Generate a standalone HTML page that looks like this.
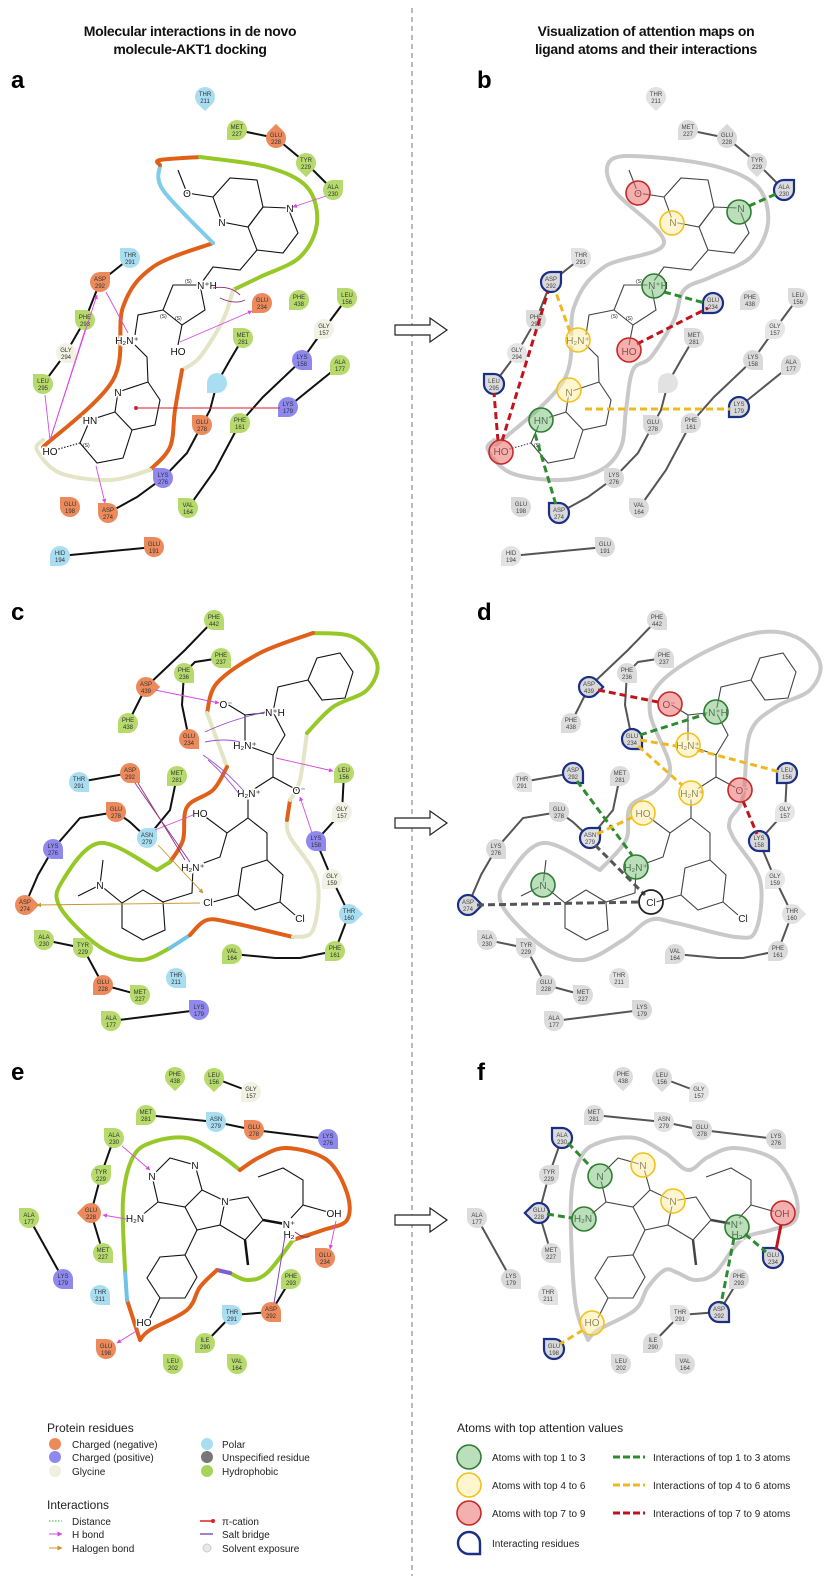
<!DOCTYPE html>
<html><head><meta charset="utf-8"><style>
html,body{margin:0;padding:0;background:#fff;}
svg{display:block;font-family:"Liberation Sans",sans-serif;}
</style></head><body>
<svg id="main" width="838" height="1576" viewBox="0 0 838 1576" xmlns="http://www.w3.org/2000/svg">
<defs>
<path id="t" d="M0,-10H10V0A10,10 0 1 1 0,-10Z"/>
<path id="tb" d="M0,-10H10V0A10,10 0 1 1 0,-10Z" fill="none" stroke="#1b2f86" stroke-width="2.2"/>

<g id="skA">
 <g fill="none" stroke="var(--ch)" stroke-width="2">
  <polyline points="237,130 276,138 306,163 333,190"/>
  <polyline points="130,258 100,282 85,320 66,353 43,384"/>
  <polyline points="347,298 324,329 302,360 263,397 240,423 215,470 188,508"/>
  <polyline points="340,365 288,407"/>
  <polyline points="243,338 230,360 217,383 210,410 202,425 187,453 163,478 137,497 108,513"/>
  <polyline points="60,556 154,547"/>
 </g>
 <g fill="none" stroke="var(--mol)" stroke-width="1.1">
  <polygon points="213,197 230,178 257,180 263,207 248,227 222,222"/>
  <polygon points="263,207 288,208 298,233 283,253 257,250 248,227"/>
  <polyline points="213,197 187,193 178,170"/>
  <polyline points="257,250 240,270 213,267 200,285"/>
  <polygon points="200,285 173,285 163,310 182,325 205,310"/>
  <polyline points="182,325 178,345"/>
  <polyline points="163,310 138,315 135,335"/>
  <polyline points="135,345 147,357 148,382"/>
  <polygon points="148,382 160,400 155,425 132,430 115,412 118,392"/>
  <polyline points="115,412 90,420 80,443 97,463 123,458 132,430"/>
  <polyline points="80,443 55,450" stroke-dasharray="1.5 1.5"/>
 </g>
 <g font-size="10" fill="var(--mt)" text-anchor="middle" style="paint-order:stroke;stroke:#fff;stroke-width:3">
  <text x="187" y="197">O</text><text x="222" y="226">N</text><text x="290" y="212">N</text>
  <text x="207" y="289">N⁺H</text><text x="178" y="355">HO</text><text x="127" y="344">H₂N⁺</text>
  <text x="118" y="396">N</text><text x="90" y="424">HN</text><text x="50" y="455">HO</text>
 </g>
 <g font-size="5" fill="var(--mt)"><text x="185" y="283">(S)</text><text x="160" y="318">(S)</text><text x="175" y="320">(S)</text><text x="83" y="447">(S)</text></g>
 <g font-size="6" text-anchor="middle" fill="var(--rt)">
  <g transform="translate(205,97)"><use href="#t" transform="rotate(135)" style="fill:var(--pol)"/><text y="-1">THR</text><text y="6">211</text></g>
  <g transform="translate(237,130)"><use href="#t" transform="rotate(180)" style="fill:var(--hyd)"/><text y="-1">MET</text><text y="6">227</text></g>
  <g transform="translate(276,138)"><use href="#t" transform="rotate(-45)" style="fill:var(--neg)"/><text y="-1">GLU</text><text y="6">228</text></g>
  <g transform="translate(306,163)"><use href="#t" transform="rotate(135)" style="fill:var(--hyd)"/><text y="-1">TYR</text><text y="6">229</text></g>
  <g transform="translate(333,190)"><use href="#t" transform="rotate(0)" style="fill:var(--hyd)"/><text y="-1">ALA</text><text y="6">230</text></g>
  <g transform="translate(130,258)"><use href="#t" transform="rotate(-90)" style="fill:var(--pol)"/><text y="-1">THR</text><text y="6">291</text></g>
  <g transform="translate(100,282)"><use href="#t" transform="rotate(0)" style="fill:var(--neg)"/><text y="-1">ASP</text><text y="6">292</text></g>
  <g transform="translate(85,320)"><use href="#t" transform="rotate(-90)" style="fill:var(--hyd)"/><text y="-1">PHE</text><text y="6">293</text></g>
  <g transform="translate(66,353)"><use href="#t" transform="rotate(90)" style="fill:var(--gly)"/><text y="-1">GLY</text><text y="6">294</text></g>
  <g transform="translate(43,384)"><use href="#t" transform="rotate(-90)" style="fill:var(--hyd)"/><text y="-1">LEU</text><text y="6">295</text></g>
  <g transform="translate(262,303)"><use href="#t" transform="rotate(180)" style="fill:var(--neg)"/><text y="-1">GLU</text><text y="6">234</text></g>
  <g transform="translate(299,300)"><use href="#t" transform="rotate(180)" style="fill:var(--hyd)"/><text y="-1">PHE</text><text y="6">438</text></g>
  <g transform="translate(347,298)"><use href="#t" transform="rotate(-90)" style="fill:var(--hyd)"/><text y="-1">LEU</text><text y="6">156</text></g>
  <g transform="translate(324,329)"><use href="#t" transform="rotate(180)" style="fill:var(--gly)"/><text y="-1">GLY</text><text y="6">157</text></g>
  <g transform="translate(243,338)"><use href="#t" transform="rotate(-90)" style="fill:var(--hyd)"/><text y="-1">MET</text><text y="6">281</text></g>
  <g transform="translate(302,360)"><use href="#t" transform="rotate(90)" style="fill:var(--pos)"/><text y="-1">LYS</text><text y="6">158</text></g>
  <g transform="translate(340,365)"><use href="#t" transform="rotate(180)" style="fill:var(--hyd)"/><text y="-1">ALA</text><text y="6">177</text></g>
  <g transform="translate(217,383)"><use href="#t" transform="rotate(180)" style="fill:var(--pol)"/></g>
  <g transform="translate(288,407)"><use href="#t" transform="rotate(180)" style="fill:var(--pos)"/><text y="-1">LYS</text><text y="6">179</text></g>
  <g transform="translate(202,425)"><use href="#t" transform="rotate(-90)" style="fill:var(--neg)"/><text y="-1">GLU</text><text y="6">278</text></g>
  <g transform="translate(240,423)"><use href="#t" transform="rotate(180)" style="fill:var(--hyd)"/><text y="-1">PHE</text><text y="6">161</text></g>
  <g transform="translate(163,478)"><use href="#t" transform="rotate(-90)" style="fill:var(--pos)"/><text y="-1">LYS</text><text y="6">276</text></g>
  <g transform="translate(188,508)"><use href="#t" transform="rotate(-90)" style="fill:var(--hyd)"/><text y="-1">VAL</text><text y="6">164</text></g>
  <g transform="translate(70,507)"><use href="#t" transform="rotate(-90)" style="fill:var(--neg)"/><text y="-1">GLU</text><text y="6">198</text></g>
  <g transform="translate(108,513)"><use href="#t" transform="rotate(-90)" style="fill:var(--neg)"/><text y="-1">ASP</text><text y="6">274</text></g>
  <g transform="translate(60,556)"><use href="#t" transform="rotate(180)" style="fill:var(--pol)"/><text y="-1">HID</text><text y="6">194</text></g>
  <g transform="translate(154,547)"><use href="#t" transform="rotate(-90)" style="fill:var(--neg)"/><text y="-1">GLU</text><text y="6">191</text></g>
 </g>
</g>

<g id="skC">
 <g fill="none" stroke="var(--ch)" stroke-width="2">
  <polyline points="214,620 185,650 146,687 128,723"/>
  <polyline points="221,658 195,662 184,673 182,705 189,739"/>
  <polyline points="79,782 130,773"/>
  <polyline points="177,776 170,810 147,838"/>
  <polyline points="116,812 130,822 147,838"/>
  <polyline points="116,812 80,818 53,849 38,875 25,905"/>
  <polyline points="44,940 83,948 103,985 140,995"/>
  <polyline points="111,1021 199,1010"/>
  <polyline points="232,954 275,958 300,958 335,951 349,914 332,879 316,841 342,812 344,773"/>
 </g>
 <g fill="none" stroke="var(--mol)" stroke-width="1.1">
  <polygon points="245,715 273,712 285,735 273,755 245,745"/>
  <polyline points="245,715 227,704"/>
  <polyline points="273,712 278,687 308,680"/>
  <polygon points="308,680 317,658 340,653 353,672 345,698 322,700"/>
  <polyline points="273,755 273,777 297,790"/>
  <polyline points="273,777 248,793 248,818 227,833 203,815"/>
  <polyline points="227,833 220,857 193,867 192,893 163,902"/>
  <polygon points="163,902 165,930 143,940 122,928 122,903 143,890"/>
  <polyline points="122,903 100,885 103,860"/><polyline points="100,885 78,896"/>
  <polyline points="248,818 267,833 267,860"/>
  <polygon points="267,860 283,875 280,902 255,910 238,895 242,868"/>
  <polyline points="238,895 213,902"/><polyline points="280,902 295,915"/>
 </g>
 <g font-size="10" fill="var(--mt)" text-anchor="middle" style="paint-order:stroke;stroke:#fff;stroke-width:3">
  <text x="226" y="708">O⁻</text><text x="275" y="716">N⁺H</text><text x="245" y="749">H₂N⁺</text>
  <text x="299" y="794">O⁻</text><text x="249" y="797">H₂N⁺</text><text x="200" y="817">HO</text>
  <text x="193" y="871">H₂N⁺</text><text x="100" y="889">N</text><text x="208" y="906">Cl</text><text x="300" y="922">Cl</text>
 </g>
 <g font-size="6" text-anchor="middle" fill="var(--rt)">
  <g transform="translate(214,620)"><use href="#t" transform="rotate(90)" style="fill:var(--hyd)"/><text y="-1">PHE</text><text y="6">442</text></g>
  <g transform="translate(221,658)"><use href="#t" transform="rotate(90)" style="fill:var(--hyd)"/><text y="-1">PHE</text><text y="6">237</text></g>
  <g transform="translate(184,673)"><use href="#t" transform="rotate(90)" style="fill:var(--hyd)"/><text y="-1">PHE</text><text y="6">236</text></g>
  <g transform="translate(146,687)"><use href="#t" transform="rotate(45)" style="fill:var(--neg)"/><text y="-1">ASP</text><text y="6">439</text></g>
  <g transform="translate(128,723)"><use href="#t" transform="rotate(180)" style="fill:var(--hyd)"/><text y="-1">PHE</text><text y="6">438</text></g>
  <g transform="translate(189,739)"><use href="#t" transform="rotate(90)" style="fill:var(--neg)"/><text y="-1">GLU</text><text y="6">234</text></g>
  <g transform="translate(79,782)"><use href="#t" transform="rotate(90)" style="fill:var(--pol)"/><text y="-1">THR</text><text y="6">291</text></g>
  <g transform="translate(130,773)"><use href="#t" transform="rotate(90)" style="fill:var(--neg)"/><text y="-1">ASP</text><text y="6">292</text></g>
  <g transform="translate(177,776)"><use href="#t" transform="rotate(180)" style="fill:var(--hyd)"/><text y="-1">MET</text><text y="6">281</text></g>
  <g transform="translate(116,812)"><use href="#t" transform="rotate(-90)" style="fill:var(--neg)"/><text y="-1">GLU</text><text y="6">278</text></g>
  <g transform="translate(147,838)"><use href="#t" transform="rotate(0)" style="fill:var(--pol)"/><text y="-1">ASN</text><text y="6">279</text></g>
  <g transform="translate(53,849)"><use href="#t" transform="rotate(90)" style="fill:var(--pos)"/><text y="-1">LYS</text><text y="6">276</text></g>
  <g transform="translate(25,905)"><use href="#t" transform="rotate(45)" style="fill:var(--neg)"/><text y="-1">ASP</text><text y="6">274</text></g>
  <g transform="translate(44,940)"><use href="#t" transform="rotate(-90)" style="fill:var(--hyd)"/><text y="-1">ALA</text><text y="6">230</text></g>
  <g transform="translate(83,948)"><use href="#t" transform="rotate(-90)" style="fill:var(--hyd)"/><text y="-1">TYR</text><text y="6">229</text></g>
  <g transform="translate(103,985)"><use href="#t" transform="rotate(180)" style="fill:var(--neg)"/><text y="-1">GLU</text><text y="6">228</text></g>
  <g transform="translate(140,995)"><use href="#t" transform="rotate(-90)" style="fill:var(--hyd)"/><text y="-1">MET</text><text y="6">227</text></g>
  <g transform="translate(176,978)"><use href="#t" transform="rotate(90)" style="fill:var(--pol)"/><text y="-1">THR</text><text y="6">211</text></g>
  <g transform="translate(199,1010)"><use href="#t" transform="rotate(-90)" style="fill:var(--pos)"/><text y="-1">LYS</text><text y="6">179</text></g>
  <g transform="translate(111,1021)"><use href="#t" transform="rotate(-90)" style="fill:var(--hyd)"/><text y="-1">ALA</text><text y="6">177</text></g>
  <g transform="translate(232,954)"><use href="#t" transform="rotate(180)" style="fill:var(--hyd)"/><text y="-1">VAL</text><text y="6">164</text></g>
  <g transform="translate(335,951)"><use href="#t" transform="rotate(180)" style="fill:var(--hyd)"/><text y="-1">PHE</text><text y="6">161</text></g>
  <g transform="translate(349,914)"><use href="#t" transform="rotate(45)" style="fill:var(--pol)"/><text y="-1">THR</text><text y="6">160</text></g>
  <g transform="translate(332,879)"><use href="#t" transform="rotate(180)" style="fill:var(--gly)"/><text y="-1">GLY</text><text y="6">159</text></g>
  <g transform="translate(316,841)"><use href="#t" transform="rotate(90)" style="fill:var(--pos)"/><text y="-1">LYS</text><text y="6">158</text></g>
  <g transform="translate(342,812)"><use href="#t" transform="rotate(180)" style="fill:var(--gly)"/><text y="-1">GLY</text><text y="6">157</text></g>
  <g transform="translate(344,773)"><use href="#t" transform="rotate(180)" style="fill:var(--hyd)"/><text y="-1">LEU</text><text y="6">156</text></g>
 </g>
</g>

<g id="skE">
 <g fill="none" stroke="var(--ch)" stroke-width="2">
  <polyline points="214,1078 251,1092"/>
  <polyline points="146,1115 216,1122 254,1130 328,1139"/>
  <polyline points="114,1138 101,1175 91,1213 103,1253"/>
  <polyline points="29,1218 63,1279"/>
  <polyline points="232,1315 271,1312 291,1279"/>
  <polyline points="232,1315 205,1343"/>
 </g>
 <g fill="none" stroke="var(--mol)" stroke-width="1.1">
  <polygon points="152,1176 170,1158 195,1165 202,1190 185,1207 158,1202"/>
  <polyline points="158,1202 140,1217"/>
  <polyline points="202,1190 225,1201 220,1225 197,1230 185,1207"/>
  <polyline points="225,1201 248,1197 263,1220 245,1240 220,1225"/>
  <polyline points="245,1240 248,1265" stroke-width="2.5"/>
  <polyline points="263,1220 285,1224" stroke-width="2.5"/>
  <polyline points="291,1218 303,1205 328,1212"/>
  <polyline points="303,1205 303,1180 283,1168 258,1177"/>
  <polyline points="197,1230 185,1255"/>
  <polygon points="185,1255 197,1277 185,1298 160,1298 147,1278 160,1257"/>
  <polyline points="160,1298 150,1318"/>
 </g>
 <g font-size="10" fill="var(--mt)" text-anchor="middle" style="paint-order:stroke;stroke:#fff;stroke-width:3">
  <text x="152" y="1180">N</text><text x="195" y="1169">N</text><text x="225" y="1205">N</text>
  <text x="135" y="1222">H₂N</text><text x="289" y="1228">N⁺</text><text x="289" y="1238">H₂</text>
  <text x="334" y="1217">OH</text><text x="144" y="1326">HO</text>
 </g>
 <g font-size="6" text-anchor="middle" fill="var(--rt)">
  <g transform="translate(175,1077)"><use href="#t" transform="rotate(135)" style="fill:var(--hyd)"/><text y="-1">PHE</text><text y="6">438</text></g>
  <g transform="translate(214,1078)"><use href="#t" transform="rotate(135)" style="fill:var(--hyd)"/><text y="-1">LEU</text><text y="6">156</text></g>
  <g transform="translate(251,1092)"><use href="#t" transform="rotate(180)" style="fill:var(--gly)"/><text y="-1">GLY</text><text y="6">157</text></g>
  <g transform="translate(146,1115)"><use href="#t" transform="rotate(180)" style="fill:var(--hyd)"/><text y="-1">MET</text><text y="6">281</text></g>
  <g transform="translate(216,1122)"><use href="#t" transform="rotate(-90)" style="fill:var(--pol)"/><text y="-1">ASN</text><text y="6">279</text></g>
  <g transform="translate(254,1130)"><use href="#t" transform="rotate(-90)" style="fill:var(--neg)"/><text y="-1">GLU</text><text y="6">278</text></g>
  <g transform="translate(328,1139)"><use href="#t" transform="rotate(90)" style="fill:var(--pos)"/><text y="-1">LYS</text><text y="6">276</text></g>
  <g transform="translate(114,1138)"><use href="#t" transform="rotate(-90)" style="fill:var(--hyd)"/><text y="-1">ALA</text><text y="6">230</text></g>
  <g transform="translate(101,1175)"><use href="#t" transform="rotate(0)" style="fill:var(--hyd)"/><text y="-1">TYR</text><text y="6">229</text></g>
  <g transform="translate(91,1213)"><use href="#t" transform="rotate(-135)" style="fill:var(--neg)"/><text y="-1">GLU</text><text y="6">228</text></g>
  <g transform="translate(29,1218)"><use href="#t" transform="rotate(-90)" style="fill:var(--hyd)"/><text y="-1">ALA</text><text y="6">177</text></g>
  <g transform="translate(103,1253)"><use href="#t" transform="rotate(90)" style="fill:var(--hyd)"/><text y="-1">MET</text><text y="6">227</text></g>
  <g transform="translate(63,1279)"><use href="#t" transform="rotate(90)" style="fill:var(--pos)"/><text y="-1">LYS</text><text y="6">179</text></g>
  <g transform="translate(100,1295)"><use href="#t" transform="rotate(90)" style="fill:var(--pol)"/><text y="-1">THR</text><text y="6">211</text></g>
  <g transform="translate(325,1258)"><use href="#t" transform="rotate(-90)" style="fill:var(--neg)"/><text y="-1">GLU</text><text y="6">234</text></g>
  <g transform="translate(291,1279)"><use href="#t" transform="rotate(180)" style="fill:var(--hyd)"/><text y="-1">PHE</text><text y="6">293</text></g>
  <g transform="translate(271,1312)"><use href="#t" transform="rotate(90)" style="fill:var(--neg)"/><text y="-1">ASP</text><text y="6">292</text></g>
  <g transform="translate(232,1315)"><use href="#t" transform="rotate(-90)" style="fill:var(--pol)"/><text y="-1">THR</text><text y="6">291</text></g>
  <g transform="translate(205,1343)"><use href="#t" transform="rotate(180)" style="fill:var(--hyd)"/><text y="-1">ILE</text><text y="6">290</text></g>
  <g transform="translate(106,1349)"><use href="#t" transform="rotate(-90)" style="fill:var(--neg)"/><text y="-1">GLU</text><text y="6">198</text></g>
  <g transform="translate(173,1364)"><use href="#t" transform="rotate(-90)" style="fill:var(--hyd)"/><text y="-1">LEU</text><text y="6">202</text></g>
  <g transform="translate(237,1364)"><use href="#t" transform="rotate(-90)" style="fill:var(--hyd)"/><text y="-1">VAL</text><text y="6">164</text></g>
 </g>
</g>

<polyline id="cA" class="sm" points="43,447 113,380 123,307 153,267 213,243 163,190 160,160 200,157 267,167 307,187 317,223 300,257 260,277 233,290 223,320 200,357 182,370 175,410 170,447 150,470 110,480 60,473 37,450 43,440"/>
<polyline id="cC" class="sm" points="157,870 100,843 63,880 60,907 100,947 140,960 180,940 207,920 233,923 293,937 313,930 317,880 290,837 287,820 300,797 307,733 333,707 367,690 377,663 353,637 313,633 260,653 217,683 207,713 227,767 213,790 187,807 183,840 157,870"/>
<polyline id="cE" class="sm" points="140,1340 127,1300 123,1200 133,1157 153,1142 187,1138 217,1153 240,1170 260,1157 287,1148 327,1160 347,1193 347,1220 323,1230 293,1240 267,1273 247,1280 230,1273 217,1270 200,1287 187,1310 150,1330 140,1340"/>
<marker id="ap" viewBox="0 0 10 10" refX="9" refY="5" markerWidth="5" markerHeight="5" orient="auto"><path d="M0,0L10,5L0,10z" fill="#d54be0"/></marker>
<marker id="ao" viewBox="0 0 10 10" refX="9" refY="5" markerWidth="5" markerHeight="5" orient="auto"><path d="M0,0L10,5L0,10z" fill="#c8962a"/></marker>
</defs>

<g font-weight="bold" font-size="14" text-anchor="middle" fill="#111" letter-spacing="-0.3">
 <text x="190" y="36">Molecular interactions in de novo</text>
 <text x="190" y="54">molecule-AKT1 docking</text>
 <text x="646" y="36">Visualization of attention maps on</text>
 <text x="646" y="54">ligand atoms and their interactions</text>
</g>
<line x1="412" y1="8" x2="412" y2="1576" stroke="#777" stroke-width="1" stroke-dasharray="5 4"/>
<g font-weight="900" font-size="24" fill="#000">
 <text x="11" y="88">a</text><text x="477" y="88">b</text>
 <text x="11" y="620">c</text><text x="477" y="620">d</text>
 <text x="11" y="1080">e</text><text x="477" y="1080">f</text>
</g>

<g fill="#fff" stroke="#222" stroke-width="1.2">
 <path d="M395,325H430V318L447,330L430,342V335H395Z"/>
 <path d="M395,818H430V811L447,823L430,835V828H395Z"/>
 <path d="M395,1215H430V1208L447,1220L430,1232V1225H395Z"/>
</g>

<g fill="none" stroke-width="4" stroke-linecap="round" stroke-linejoin="round">
 <polyline class="sm" points="43,447 113,380 123,307 153,267 213,243" stroke="#e0601a"/>
 <polyline class="sm" points="213,243 163,190 160,165" stroke="#7fcbea"/>
 <polyline class="sm" points="160,165 160,160 200,157" stroke="#e0601a"/>
 <polyline class="sm" points="200,157 267,167 307,187 317,223 300,257 260,277 233,290" stroke="#96c828"/>
 <polyline class="sm" points="233,290 223,320 200,357 182,370" stroke="#e4e4c6"/>
 <polyline class="sm" points="182,370 175,410 170,447 150,470" stroke="#e0601a"/>
 <polyline class="sm" points="150,470 110,480 60,473 37,450 43,440" stroke="#e4e4c6"/>

 <polyline class="sm" points="157,870 100,843 63,880 60,907 100,947 140,960 170,948" stroke="#96c828"/>
 <polyline class="sm" points="170,948 190,935" stroke="#6fc3e6"/>
 <polyline class="sm" points="190,935 207,920 233,923 293,937" stroke="#e0601a"/>
 <polyline class="sm" points="293,937 313,930 317,880 290,837 287,820" stroke="#e4e4c6"/>
 <polyline class="sm" points="287,820 290,800" stroke="#e0601a"/>
 <polyline class="sm" points="290,800 300,780 307,733" stroke="#e4e4c6"/>
 <polyline class="sm" points="307,733 333,707 367,690 377,663 353,637 313,633" stroke="#96c828"/>
 <polyline class="sm" points="313,633 260,653 217,683 207,713" stroke="#e0601a"/>
 <polyline class="sm" points="207,713 227,767" stroke="#e4e4c6"/>
 <polyline class="sm" points="227,767 213,790 187,807 183,840 170,862" stroke="#e0601a"/>
 <polyline class="sm" points="170,862 157,870" stroke="#96c828"/>

 <polyline class="sm" points="140,1340 127,1300" stroke="#e0601a"/>
 <polyline class="sm" points="127,1300 125,1270" stroke="#6fc3e6"/>
 <polyline class="sm" points="125,1270 123,1200 133,1157 153,1142 187,1138 217,1153 240,1170" stroke="#96c828"/>
 <polyline class="sm" points="240,1170 260,1157 287,1148 327,1160 347,1193 347,1220 323,1230 293,1240" stroke="#e0601a"/>
 <polyline class="sm" points="293,1240 267,1273 247,1280 230,1273" stroke="#96c828"/>
 <polyline class="sm" points="230,1273 217,1270" stroke="#7a5fd8"/>
 <polyline class="sm" points="217,1270 200,1287 187,1310 150,1330 140,1340" stroke="#e0601a"/>
</g>

<g style="--ch:#111;--mol:#111;--mt:#111;--rt:#333;--neg:#ec8a5c;--pos:#8f88ee;--gly:#f2f2e4;--pol:#a9def2;--hyd:#b6da6c">
 <use href="#skA"/><use href="#skC"/><use href="#skE"/>
</g>

<g fill="none" stroke="#d54be0" stroke-width="0.9">
 <line x1="326" y1="196" x2="293" y2="207" marker-end="url(#ap)"/>
 <line x1="180" y1="342" x2="252" y2="311" marker-end="url(#ap)"/>
 <line x1="106" y1="292" x2="128" y2="333"/>
 <line x1="45" y1="395" x2="50" y2="440"/>
 <line x1="50" y1="440" x2="97" y2="295" marker-end="url(#ap)"/>
 <line x1="50" y1="440" x2="85" y2="330"/>
 <line x1="96" y1="466" x2="105" y2="503" marker-end="url(#ap)"/>
 <path d="M213,288 Q230,285 240,295 M220,298 Q235,305 245,300" stroke="#8a2a6a"/>

 <line x1="155" y1="690" x2="219" y2="703" marker-end="url(#ap)"/>
 <line x1="276" y1="758" x2="333" y2="771" marker-end="url(#ap)"/>
 <line x1="312" y1="833" x2="300" y2="797" marker-end="url(#ap)"/>
 <line x1="155" y1="830" x2="193" y2="815"/>
 <path d="M205,732 Q230,720 265,712 M205,742 Q225,738 240,742 M203,755 Q225,770 243,790 M208,760 Q225,775 240,795" stroke="#9a50d0"/>
 <line x1="135" y1="783" x2="190" y2="862" stroke="#7a3ab0"/>
 <line x1="138" y1="783" x2="185" y2="860" stroke="#a03060"/>

 <line x1="122" y1="1146" x2="150" y2="1170" marker-end="url(#ap)"/>
 <line x1="126" y1="1219" x2="103" y2="1215" marker-end="url(#ap)"/>
 <line x1="336" y1="1221" x2="330" y2="1249" marker-end="url(#ap)"/>
 <line x1="274" y1="1303" x2="285" y2="1236" stroke="#7a3ab0"/>
 <line x1="138" y1="1330" x2="117" y2="1343" marker-end="url(#ap)"/>
 <path d="M295,1232 Q305,1240 310,1236" stroke="#8a2a6a"/>
</g>
<g fill="none" stroke="#c8962a" stroke-width="0.9">
 <line x1="158" y1="845" x2="203" y2="893" marker-end="url(#ao)"/>
 <line x1="200" y1="903" x2="37" y2="905" marker-end="url(#ao)"/>
</g>
<g stroke="#d02030" stroke-width="0.9"><line x1="136" y1="408" x2="280" y2="408"/><circle cx="136" cy="408" r="1.5" fill="#d02030"/></g>

<g fill="none" stroke="#c9c9c9" stroke-width="4" stroke-linecap="round" stroke-linejoin="round">
 <use href="#cA" transform="translate(451,0)"/>
 <use href="#cC" transform="translate(443,0)"/>
 <use href="#cE" transform="translate(448,0)"/>
</g>
<g style="--ch:#555;--mol:#444;--mt:#222;--rt:#444;--neg:#d9d9d9;--pos:#d9d9d9;--gly:#e6e6e6;--pol:#e2e2e2;--hyd:#dcdcdc">
 <use href="#skA" transform="translate(451,0)"/>
 <use href="#skC" transform="translate(443,0)"/>
 <use href="#skE" transform="translate(448,0)"/>
</g>

<g>
 <use href="#tb" transform="translate(784,190) rotate(0)"/>
 <use href="#tb" transform="translate(551,282) rotate(0)"/>
 <use href="#tb" transform="translate(494,384) rotate(-90)"/>
 <use href="#tb" transform="translate(713,303) rotate(180)"/>
 <use href="#tb" transform="translate(739,407) rotate(180)"/>
 <use href="#tb" transform="translate(559,513) rotate(-90)"/>
 <use href="#tb" transform="translate(589,687) rotate(45)"/>
 <use href="#tb" transform="translate(632,739) rotate(90)"/>
 <use href="#tb" transform="translate(573,773) rotate(90)"/>
 <use href="#tb" transform="translate(590,838) rotate(0)"/>
 <use href="#tb" transform="translate(468,905) rotate(45)"/>
 <use href="#tb" transform="translate(759,841) rotate(90)"/>
 <use href="#tb" transform="translate(787,773) rotate(180)"/>
 <use href="#tb" transform="translate(562,1138) rotate(-90)"/>
 <use href="#tb" transform="translate(539,1213) rotate(-135)"/>
 <use href="#tb" transform="translate(773,1258) rotate(-90)"/>
 <use href="#tb" transform="translate(719,1312) rotate(90)"/>
 <use href="#tb" transform="translate(554,1349) rotate(-90)"/>
</g>

<g fill="none" stroke-width="3" stroke-dasharray="7 4">
 <line x1="749" y1="206" x2="776" y2="194" stroke="#2e8b2e"/>
 <line x1="664" y1="292" x2="705" y2="303" stroke="#2e8b2e"/>
 <line x1="535" y1="434" x2="556" y2="505" stroke="#2e8b2e"/>
 <line x1="570" y1="332" x2="555" y2="290" stroke="#f0b820"/>
 <line x1="585" y1="409" x2="730" y2="409" stroke="#f0b820"/>
 <line x1="637" y1="344" x2="708" y2="308" stroke="#c0141c"/>
 <line x1="498" y1="441" x2="494" y2="393" stroke="#c0141c"/>
 <line x1="502" y1="441" x2="548" y2="292" stroke="#c0141c"/>
 <line x1="598" y1="690" x2="658" y2="702" stroke="#c0141c"/>
 <line x1="640" y1="735" x2="706" y2="714" stroke="#2e8b2e"/>
 <line x1="640" y1="740" x2="676" y2="746" stroke="#f0b820"/>
 <line x1="697" y1="750" x2="780" y2="772" stroke="#f0b820"/>
 <line x1="638" y1="746" x2="682" y2="785" stroke="#f0b820"/>
 <line x1="577" y1="781" x2="632" y2="855" stroke="#2e8b2e"/>
 <line x1="597" y1="834" x2="633" y2="817" stroke="#f0b820"/>
 <line x1="595" y1="845" x2="645" y2="895" stroke="#555"/>
 <line x1="477" y1="905" x2="640" y2="902" stroke="#555"/>
 <line x1="743" y1="801" x2="757" y2="834" stroke="#c0141c"/>
 <line x1="568" y1="1143" x2="592" y2="1168" stroke="#2e8b2e"/>
 <line x1="547" y1="1214" x2="572" y2="1218" stroke="#2e8b2e"/>
 <line x1="745" y1="1234" x2="766" y2="1252" stroke="#2e8b2e"/>
 <line x1="734" y1="1238" x2="721" y2="1304" stroke="#2e8b2e"/>
 <line x1="583" y1="1330" x2="560" y2="1344" stroke="#f0b820"/>
</g>
<line x1="781" y1="1225" x2="776" y2="1250" stroke="#c0141c" stroke-width="3"/>

<g stroke-width="1.6">
 <g fill="rgba(235,110,110,0.55)" stroke="#c62828">
  <circle cx="638" cy="193" r="12"/><circle cx="629" cy="350" r="12"/><circle cx="501" cy="452" r="12"/>
  <circle cx="670" cy="704" r="12"/><circle cx="740" cy="790" r="12"/><circle cx="783" cy="1213" r="12"/>
 </g>
 <g fill="rgba(255,238,160,0.5)" stroke="#f0c21e">
  <circle cx="672" cy="223" r="12"/><circle cx="578" cy="340" r="12"/><circle cx="569" cy="390" r="12"/>
  <circle cx="688" cy="745" r="12"/><circle cx="691" cy="793" r="12"/><circle cx="643" cy="813" r="12"/>
  <circle cx="643" cy="1165" r="12"/><circle cx="673" cy="1201" r="12"/><circle cx="592" cy="1323" r="12"/>
 </g>
 <g fill="rgba(120,190,120,0.5)" stroke="#2e7d32">
  <circle cx="739" cy="212" r="12"/><circle cx="654" cy="286" r="12"/><circle cx="541" cy="420" r="12"/>
  <circle cx="716" cy="712" r="12"/><circle cx="636" cy="867" r="12"/><circle cx="543" cy="885" r="12"/>
  <circle cx="600" cy="1176" r="12"/><circle cx="584" cy="1219" r="12"/><circle cx="737" cy="1227" r="12"/>
 </g>
 <circle cx="651" cy="902" r="12" fill="none" stroke="#222" stroke-width="1.8"/>
</g>

<g font-size="10" fill="#222">
 <text x="47" y="1432" font-size="12">Protein residues</text>
 <circle cx="55" cy="1444" r="6" fill="#ec8a5c"/><text x="72" y="1448">Charged (negative)</text>
 <circle cx="55" cy="1457" r="6" fill="#8f88ee"/><text x="72" y="1461">Charged (positive)</text>
 <circle cx="55" cy="1471" r="6" fill="#f0f0e0"/><text x="72" y="1475">Glycine</text>
 <circle cx="207" cy="1444" r="6" fill="#a9def2"/><text x="222" y="1448">Polar</text>
 <circle cx="207" cy="1457" r="6" fill="#777"/><text x="222" y="1461">Unspecified residue</text>
 <circle cx="207" cy="1471" r="6" fill="#a8d45c"/><text x="222" y="1475">Hydrophobic</text>
 <text x="47" y="1509" font-size="12">Interactions</text>
 <line x1="49" y1="1521" x2="62" y2="1521" stroke="#3cb040" stroke-dasharray="1.5 1.5"/><text x="72" y="1525">Distance</text>
 <line x1="49" y1="1534" x2="62" y2="1534" stroke="#d54be0" marker-end="url(#ap)"/><text x="72" y="1538">H bond</text>
 <line x1="49" y1="1548" x2="62" y2="1548" stroke="#c8962a" marker-end="url(#ao)"/><text x="72" y="1552">Halogen bond</text>
 <line x1="200" y1="1521" x2="213" y2="1521" stroke="#e02020" stroke-width="1.5"/><circle cx="213" cy="1521" r="2" fill="#e02020"/><text x="222" y="1525">π-cation</text>
 <line x1="200" y1="1534" x2="213" y2="1534" stroke="#6a2aa0" stroke-width="1.2"/><text x="222" y="1538">Salt bridge</text>
 <circle cx="207" cy="1548" r="4" fill="#e8e8e8" stroke="#ccc"/><text x="222" y="1552">Solvent exposure</text>

 <text x="457" y="1432" font-size="12">Atoms with top attention values</text>
 <circle cx="469" cy="1457" r="12" fill="rgba(120,190,120,0.5)" stroke="#2e7d32" stroke-width="1.6"/>
 <text x="492" y="1461">Atoms with top 1 to 3</text>
 <line x1="613" y1="1457" x2="645" y2="1457" stroke="#2e8b2e" stroke-width="3" stroke-dasharray="7 3"/>
 <text x="653" y="1461">Interactions of top 1 to 3 atoms</text>
 <circle cx="469" cy="1485" r="12" fill="rgba(255,238,160,0.5)" stroke="#f0c21e" stroke-width="1.6"/>
 <text x="492" y="1489">Atoms with top 4 to 6</text>
 <line x1="613" y1="1485" x2="645" y2="1485" stroke="#f0b820" stroke-width="3" stroke-dasharray="7 3"/>
 <text x="653" y="1489">Interactions of top 4 to 6 atoms</text>
 <circle cx="469" cy="1513" r="12" fill="rgba(235,110,110,0.55)" stroke="#c62828" stroke-width="1.6"/>
 <text x="492" y="1517">Atoms with top 7 to 9</text>
 <line x1="613" y1="1513" x2="645" y2="1513" stroke="#c0141c" stroke-width="3" stroke-dasharray="7 3"/>
 <text x="653" y="1517">Interactions of top 7 to 9 atoms</text>
 <use href="#tb" transform="translate(469,1543) rotate(90) scale(1.1)"/>
 <text x="492" y="1547">Interacting residues</text>
</g>
</svg>
<script>
(function(){
 var ns="http://www.w3.org/2000/svg";
 document.querySelectorAll("polyline.sm").forEach(function(pl){
  var pts=pl.getAttribute("points").trim().split(/\s+/).map(function(s){var a=s.split(",");return [+a[0],+a[1]];});
  if(pts.length<3)return;
  var d="M"+pts[0][0]+","+pts[0][1];
  for(var i=0;i<pts.length-1;i++){
   var p0=pts[i-1]||pts[i],p1=pts[i],p2=pts[i+1],p3=pts[i+2]||p2;
   var c1=[p1[0]+(p2[0]-p0[0])/6,p1[1]+(p2[1]-p0[1])/6];
   var c2=[p2[0]-(p3[0]-p1[0])/6,p2[1]-(p3[1]-p1[1])/6];
   d+="C"+c1[0].toFixed(1)+","+c1[1].toFixed(1)+" "+c2[0].toFixed(1)+","+c2[1].toFixed(1)+" "+p2[0]+","+p2[1];
  }
  var p=document.createElementNS(ns,"path");
  for(var j=0;j<pl.attributes.length;j++){var at=pl.attributes[j];if(at.name!=="points")p.setAttribute(at.name,at.value);}
  p.setAttribute("d",d);
  pl.parentNode.replaceChild(p,pl);
 });
})();
</script>
</body></html>
